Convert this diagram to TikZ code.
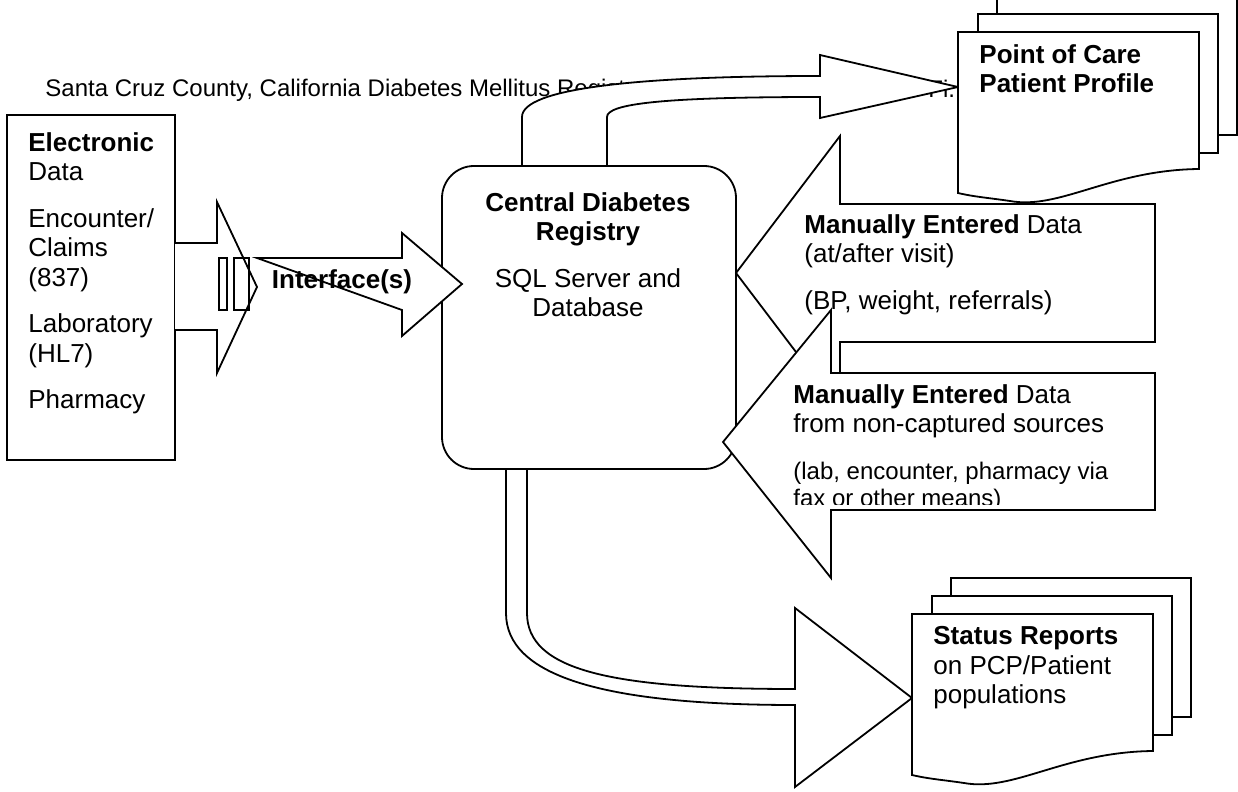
\documentclass[tikz,border=0pt]{standalone}
\usepackage{fontspec}
\setmainfont{Liberation Sans}

% stack of three pages, the front one with a wavy lower edge
\newcommand{\pagestack}[1]{%
  \begin{scope}[shift={#1}]
    \draw[blk] (39,-36) rectangle (279,103);
    \draw[blk] (20,-18) rectangle (260,121);
    \draw[blk] (0,0) -- (241,0) -- (241,137)
      .. controls (152,138) and (102,178) .. (52,169)
      .. controls (32,166) and (17,165) .. (0,161) -- cycle;
  \end{scope}}

\begin{document}
\begin{tikzpicture}[x=0.5pt,y=-0.5pt,
    blk/.style={draw, fill=white, line width=0.9pt, line join=miter},
    body/.style={inner sep=0pt, align=left, font=\fontsize{13}{14.75}\selectfont},
    small/.style={inner sep=0pt, align=left, font=\fontsize{12}{13.5}\selectfont}]
\useasboundingbox (0,0) rectangle (1238,792);

% title line, mostly hidden behind the upper arrow
\node[small, anchor=base west] (title) at (45,97) {Santa Cruz County, California Diabetes Mellitus Registry};
\node[small, anchor=base west] (figno) at (928,98) {Fi.};

% electronic sources and the feed arrow
\draw[blk] (7,115) rectangle (175,460);
\draw[blk] (175,243) -- (217,243) -- (217,202) -- (257,287) -- (217,373) -- (217,330) -- (175,330);
\draw[line width=0.9pt] (219,258) rectangle (227,310) (234,258) rectangle (249,310);

% registry and interface
\draw[blk, rounded corners=16pt] (442,166) rectangle (736,469);
\draw[blk] (257,258) -- (402,258) -- (402,233) -- (462,284) -- (402,336) -- (402,310) -- cycle;

% registry -> point of care
\draw[blk] (522,166) -- (522,117) .. controls (522,88) and (640,76) .. (820,76)
  -- (820,55) -- (958,87) -- (820,118) -- (820,97)
  .. controls (660,97) and (607,104) .. (607,117) -- (607,166) -- cycle;
\pagestack{(958,32)}

% manual entry arrows
\draw[blk] (1155,204) -- (840,204) -- (840,136) -- (736,273) -- (840,410) -- (840,342) -- (1155,342) -- cycle;
\draw[blk] (1155,373) -- (831,373) -- (831,310) -- (723,442) -- (831,578) -- (831,510) -- (1155,510) -- cycle;

% registry -> status reports
\draw[blk] (506,469) -- (506,613) .. controls (506,675) and (600,705) .. (795,705)
  -- (795,787) -- (912,698) -- (795,608) -- (795,689)
  .. controls (610,689) and (527,670) .. (527,613) -- (527,469) -- cycle;
\pagestack{(912,614)}

% texts
\node[body, anchor=north west] (electronic) at (28,132)
  {\textbf{Electronic}\\Data\\[8.5pt]Encounter/\\Claims\\(837)\\[8.5pt]Laboratory\\(HL7)\\[8.5pt]Pharmacy};
\node[body, align=center, anchor=north] (registry) at (588,192)
  {\textbf{Central Diabetes}\\\textbf{Registry}\\[8.5pt]SQL Server and\\Database};
\node[body, anchor=base] (iface) at (342,288) {\textbf{Interface(s)}};
\node[body, anchor=north west] (manual1) at (804,214)
  {\textbf{Manually Entered} Data\\(at/after visit)\\[8.5pt](BP, weight, referrals)};
\node[body, anchor=north west] (manual2) at (793,384)
  {\textbf{Manually Entered} Data\\from non-captured sources};
\begin{scope}
  \clip (723,373) rectangle (1155,504);
  \node[small, anchor=north west] (manual2note) at (793,462)
    {(lab, encounter, pharmacy via\\fax or other means)};
\end{scope}
\node[body, anchor=north west] (pocnote) at (979,44) {\textbf{Point of Care}\\\textbf{Patient Profile}};
\node[body, anchor=north west] (statusnote) at (933,626)
  {\textbf{Status Reports}\\on PCP/Patient\\populations};
\end{tikzpicture}
\end{document}
